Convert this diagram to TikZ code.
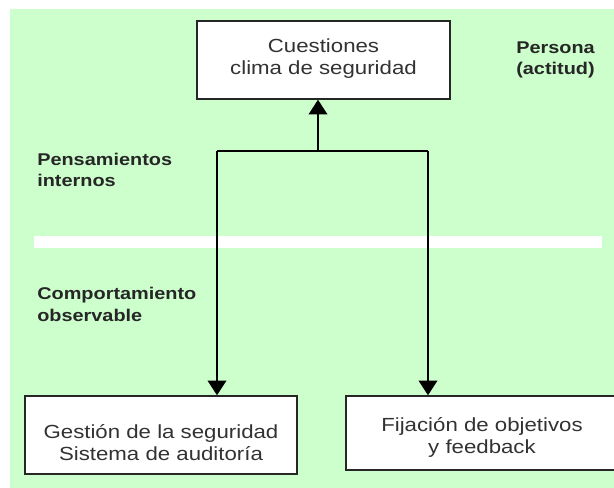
\documentclass[tikz,border=0pt]{standalone}
\usepackage{fontspec}
\setmainfont{Liberation Sans}[FakeStretch=1.17]
\usetikzlibrary{arrows.meta}
\definecolor{fondo}{RGB}{204,255,204}
\definecolor{texto}{RGB}{50,50,50}

\begin{document}
\begin{tikzpicture}[x=0.75pt,y=-0.75pt,
    caja/.style={draw=black!85,line width=1.1pt,fill=white,inner sep=0pt},
    textocaja/.style={inner sep=0pt,align=center,text=texto,
        font=\fontsize{14.25}{16.5}\selectfont},
    etiqueta/.style={inner sep=0pt,align=left,text=black!85,
        font=\fontsize{12.75}{16}\selectfont\bfseries},
    flecha/.style={line width=1.1pt,-{Triangle[length=11pt,width=14pt]}},
    linea/.style={line width=1.1pt}]
  \useasboundingbox (0,0) rectangle (614,488);
  \fill[white] (0,0) rectangle (614,488);
  \fill[fondo] (10,9) rectangle (614,488);
  % franja blanca
  \fill[white] (34,236) rectangle (602,248);

  % cajas
  \node[caja,minimum width=189.75pt,minimum height=58.5pt] (cuestiones) at (323.5,60) {};
  \node[caja,minimum width=204pt,minimum height=58.5pt] (gestion) at (161,435) {};
  \node[caja,minimum width=204pt,minimum height=55.5pt] (fijacion) at (482,433) {};

  \node[textocaja,anchor=base] (cuestionesTxt) at (323.5,75) {Cuestiones\\clima de seguridad};
  \node[textocaja,anchor=base] (gestionTxt) at (161,460) {Gestión de la seguridad\\Sistema de auditoría};
  \node[textocaja,anchor=base] (fijacionTxt) at (482,453) {Fijación de objetivos\\y feedback};

  % etiquetas
  \node[etiqueta,anchor=base west] (persona) at (516,75) {Persona\\(actitud)};
  \node[etiqueta,anchor=base west] (pensamientos) at (37,187) {Pensamientos\\internos};
  \node[etiqueta,anchor=base west] (comportamiento) at (37,321) {Comportamiento\\observable};

  % conectores
  \coordinate (cruce) at (318,151);
  \coordinate (izq) at (217,151);
  \coordinate (der) at (428,151);
  \draw[linea] (izq) -- (der);
  \draw[flecha] (cruce) -- (cruce |- cuestiones.south);
  \draw[flecha] (izq) -- (izq |- gestion.north);
  \draw[flecha] (der) -- (der |- fijacion.north);
\end{tikzpicture}
\end{document}
